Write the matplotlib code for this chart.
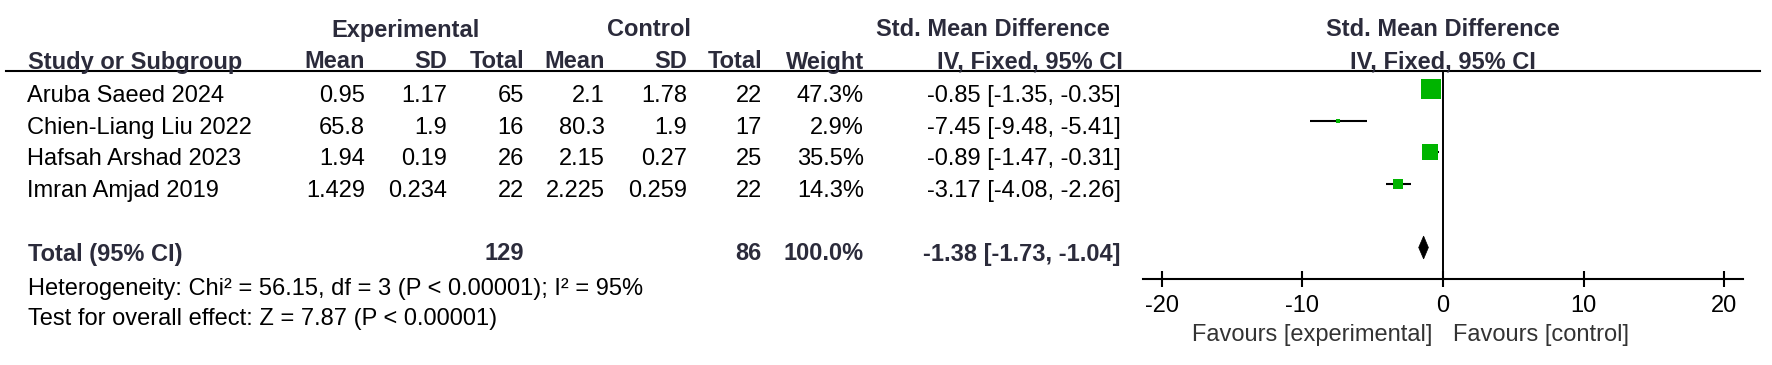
import numpy as np
import matplotlib
matplotlib.use("Agg")
import matplotlib.pyplot as plt
from matplotlib.patches import Polygon

plt.rcParams["font.family"] = ["Liberation Sans", "DejaVu Sans"]

# data
studies = ["Aruba Saeed 2024", "Chien-Liang Liu 2022", "Hafsah Arshad 2023", "Imran Amjad 2019"]
exp_mean = ["0.95", "65.8", "1.94", "1.429"]
exp_sd = ["1.17", "1.9", "0.19", "0.234"]
exp_n = [65, 16, 26, 22]
ctl_mean = ["2.1", "80.3", "2.15", "2.225"]
ctl_sd = ["1.78", "1.9", "0.27", "0.259"]
ctl_n = [22, 17, 25, 22]
weight = [47.3, 2.9, 35.5, 14.3]
smd = [-0.85, -7.45, -0.89, -3.17]
ci_low = [-1.35, -9.48, -1.47, -4.08]
ci_high = [-0.35, -5.41, -0.31, -2.26]
total_smd = -1.38
total_low = -1.73
total_high = -1.04
heterogeneity = "Heterogeneity: Chi² = 56.15, df = 3 (P < 0.00001); I² = 95%"
overall = "Test for overall effect: Z = 7.87 (P < 0.00001)"
xticks = [-20, -10, 0, 10, 20]

W, H = 1772, 365
FS = 17
head_col = "#2b2b3b"
green = "#00b400"

fig = plt.figure(figsize=(W / 100, H / 100), dpi=100)

# table layer, in pixel units
tab = fig.add_axes([0, 0, 1, 1])
tab.set_xlim(0, W)
tab.set_ylim(H, 0)
tab.axis("off")

row0, dy = 89, 31.7
total_row = 5


def base(i):
    return row0 + i * dy + 13


def txt(x, y, s, ha="right", bold=False, color="black"):
    tab.text(x, y, s, ha=ha, va="baseline", fontsize=FS,
             fontweight="bold" if bold else "normal",
             color=head_col if bold else color)


# headers
txt(406, 36.5, "Experimental", ha="center", bold=True)
txt(649, 36.5, "Control", ha="center", bold=True)
txt(993, 36.5, "Std. Mean Difference", ha="center", bold=True)
txt(1443, 36.5, "Std. Mean Difference", ha="center", bold=True)
txt(28, 68.5, "Study or Subgroup", ha="left", bold=True)
col_right = [365, 447, 524, 605, 687, 762, 864]
col_names = ["Mean", "SD", "Total", "Mean", "SD", "Total", "Weight"]
for xr, name in zip(col_right, col_names):
    txt(xr, 68.5, name, bold=True)
txt(1030, 68.5, "IV, Fixed, 95% CI", ha="center", bold=True)
txt(1443, 68.5, "IV, Fixed, 95% CI", ha="center", bold=True)
tab.plot([6, 1760], [71, 71], color="black", lw=1.5)

# study rows
for i, name in enumerate(studies):
    y = base(i)
    txt(27, y, name, ha="left")
    cells = [exp_mean[i], exp_sd[i], str(exp_n[i]), ctl_mean[i], ctl_sd[i],
             str(ctl_n[i]), f"{weight[i]:.1f}%"]
    for xr, c in zip(col_right, cells):
        txt(xr, y, c)
    txt(1121, y, f"{smd[i]:.2f} [{ci_low[i]:.2f}, {ci_high[i]:.2f}]")

# total row
yt = base(total_row)
txt(28, yt, "Total (95% CI)", ha="left", bold=True)
txt(524, yt, str(sum(exp_n)), bold=True)
txt(762, yt, str(sum(ctl_n)), bold=True)
txt(864, yt, f"{sum(weight):.1f}%", bold=True)
txt(1121, yt, f"{total_smd:.2f} [{total_low:.2f}, {total_high:.2f}]", bold=True)
txt(28, 295.5, heterogeneity, ha="left")
txt(28, 325.5, overall, ha="left")
txt(1432, 341.5, "Favours [experimental]", color="#333333")
txt(1453, 341.5, "Favours [control]", ha="left", color="#333333")

# forest plot
fa = fig.add_axes([1143 / W, 1 - 279 / H, 600 / W, 208 / H])
fa.patch.set_alpha(0)
fa.set_xlim(-21.35, 21.35)
fa.set_ylim((279 - row0) / dy, (71 - row0) / dy)
rows = np.arange(len(studies))
fa.hlines(rows, ci_low, ci_high, color="black", lw=1.5, zorder=2)
for r, est, w in zip(rows, smd, weight):
    fa.plot(est, r, marker="s", ms=2.0 * np.sqrt(w), color=green, mec=green,
            mew=0, zorder=3)
h = 0.36
fa.add_patch(Polygon([[total_low, total_row], [total_smd, total_row - h],
                      [total_high, total_row], [total_smd, total_row + h]],
                     closed=True, fc="black", ec="black", lw=0.5, zorder=3))
fa.axvline(0, color="black", lw=1.4, zorder=1)
for s in ["top", "left", "right"]:
    fa.spines[s].set_visible(False)
fa.spines["bottom"].set_linewidth(1.5)
fa.set_yticks([])
fa.set_xticks(xticks)
fa.set_xticklabels([str(t) for t in xticks])
fa.tick_params(axis="x", direction="inout", length=11, width=1.5,
               labelsize=FS, pad=6)

plt.savefig("out.png", dpi=100)
plt.close()
